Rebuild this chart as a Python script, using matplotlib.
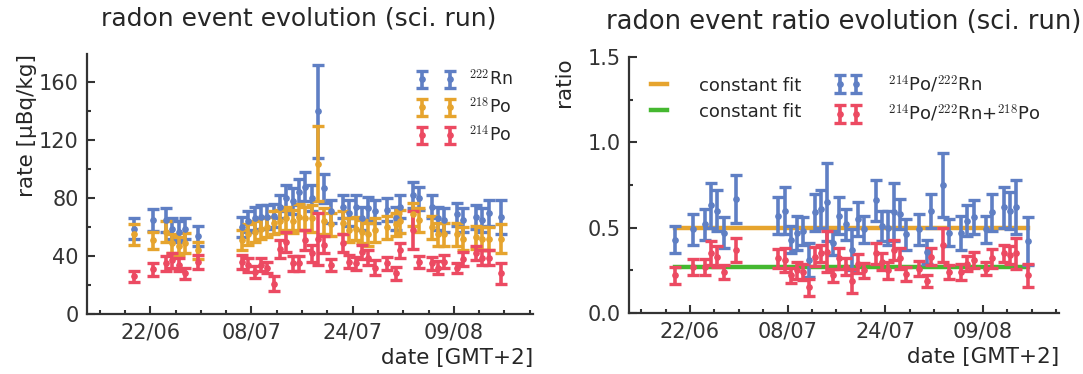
import numpy as np
import pandas as pd
import matplotlib
matplotlib.use("Agg")
import matplotlib.pyplot as plt
import matplotlib.dates as mdates

plt.rcParams["font.family"] = ["DejaVu Sans"]
plt.rcParams["mathtext.fontset"] = "cm"
plt.rcParams["text.color"] = "#262626"
plt.rcParams["axes.labelcolor"] = "#262626"
plt.rcParams["xtick.color"] = "#333333"
plt.rcParams["ytick.color"] = "#333333"

# measurement times (GMT+2)
times = pd.to_datetime([
    "2021-06-19 12:00", "2021-06-22 12:00", "2021-06-24 12:00", "2021-06-25 12:00",
    "2021-06-26 12:00", "2021-06-27 12:00", "2021-06-29 12:00", "2021-07-06 12:00",
    "2021-07-07 12:00", "2021-07-08 12:00", "2021-07-09 12:00", "2021-07-10 12:00",
    "2021-07-11 12:00", "2021-07-12 12:00", "2021-07-13 12:00", "2021-07-14 12:00",
    "2021-07-15 12:00", "2021-07-16 12:00", "2021-07-17 12:00", "2021-07-18 12:00",
    "2021-07-19 12:00", "2021-07-20 12:00", "2021-07-22 12:00", "2021-07-23 12:00",
    "2021-07-24 12:00", "2021-07-25 12:00", "2021-07-26 12:00", "2021-07-27 12:00",
    "2021-07-29 12:00", "2021-07-30 19:00", "2021-07-31 12:00", "2021-08-02 12:00",
    "2021-08-03 12:00", "2021-08-05 12:00", "2021-08-06 12:00", "2021-08-07 12:00",
    "2021-08-09 12:00", "2021-08-10 12:00", "2021-08-12 12:00", "2021-08-13 12:00",
    "2021-08-14 12:00", "2021-08-16 12:00",
])

# rates [uBq/kg]
rn222 = [59, 65, 65, 59, 57, 59, 54, 60, 64, 66, 67, 67, 68, 74, 80, 78, 84, 88, 80, 140, 87,
         71, 74, 70, 74, 66, 73, 71, 72, 66, 74, 82, 80, 74, 66, 65, 69, 65, 67, 65, 70, 67]
rn222_err = [7.5, 7.5, 8, 7, 7, 7, 7, 7, 7.5, 8, 8, 8, 8, 8, 9, 9, 9, 10, 9, 32, 10,
             8, 8, 9, 8, 8, 8, 8, 8, 8, 8, 9, 8, 8, 8, 8, 8, 8, 8, 8, 9, 12]
po218 = [55, 51, 57, 49, 47, 49, 44, 51, 55, 57, 59, 60, 63, 64, 66, 64, 67, 66, 66, 104, 64,
         62, 63, 58, 59, 57, 55, 58, 60, 62, 64, 69, 65, 60, 55, 55, 55, 52, 53, 52, 52, 52]
po218_err = [7, 6, 7, 6.5, 6, 7, 6, 7, 7, 7, 7, 7, 8, 8, 8, 8, 9, 8, 9, 26, 9,
             8, 8, 8, 8, 8, 8, 8, 8, 8, 8, 8, 8, 8, 8, 8, 8, 8, 8, 8, 8, 10]
po214 = [26, 31, 35, 37, 34, 28, 36, 36, 34, 29, 34, 32, 21, 45, 50, 35, 35, 51, 42, 52, 48,
         34, 49, 36, 35, 43, 39, 32, 35, 28, 44, 58, 36, 35, 32, 36, 32, 38, 42, 39, 39, 28]
po214_err = [4, 4.5, 5, 5, 4.5, 4, 5, 5, 5, 4, 4.5, 4, 5, 6, 7, 5, 5, 7, 6, 18, 6,
             4, 6, 4.5, 4.5, 5, 5, 5, 4.5, 4.5, 5, 13, 4, 4.5, 4.5, 4.5, 3.5, 5, 5, 5, 5, 7]

# ratios
ratio_rn = [0.43, 0.49, 0.52, 0.63, 0.60, 0.47, 0.67, 0.57, 0.60, 0.43, 0.47, 0.48, 0.31, 0.59,
            0.61, 0.65, 0.41, 0.57, 0.52, 0.37, 0.55, 0.49, 0.66, 0.51, 0.50, 0.59, 0.58, 0.46,
            0.49, 0.36, 0.60, 0.75, 0.47, 0.47, 0.54, 0.56, 0.49, 0.59, 0.62, 0.60, 0.62, 0.42]
ratio_rn_err = [0.08, 0.09, 0.09, 0.13, 0.12, 0.09, 0.14, 0.11, 0.14, 0.08, 0.10, 0.08, 0.10, 0.11,
                0.11, 0.23, 0.07, 0.11, 0.09, 0.12, 0.10, 0.08, 0.12, 0.09, 0.10, 0.17, 0.09, 0.09,
                0.09, 0.07, 0.10, 0.19, 0.08, 0.10, 0.09, 0.10, 0.08, 0.11, 0.12, 0.11, 0.16, 0.14]
ratio_sum = [0.22, 0.27, 0.27, 0.35, 0.33, 0.24, 0.37, 0.32, 0.31, 0.22, 0.25, 0.24, 0.15, 0.33,
             0.35, 0.36, 0.22, 0.32, 0.27, 0.19, 0.29, 0.25, 0.35, 0.30, 0.25, 0.37, 0.32, 0.23,
             0.26, 0.19, 0.33, 0.40, 0.24, 0.24, 0.29, 0.31, 0.26, 0.32, 0.35, 0.34, 0.35, 0.22]
ratio_sum_err = [0.05, 0.045, 0.045, 0.07, 0.06, 0.04, 0.07, 0.055, 0.07, 0.045, 0.05, 0.045, 0.05,
                 0.055, 0.05, 0.12, 0.04, 0.06, 0.05, 0.07, 0.055, 0.045, 0.06, 0.05, 0.05, 0.06,
                 0.06, 0.04, 0.045, 0.035, 0.05, 0.10, 0.04, 0.045, 0.045, 0.045, 0.04, 0.055,
                 0.05, 0.05, 0.09, 0.07]
fit_rn = 0.50
fit_sum = 0.272

major_dates = pd.to_datetime(["2021-06-22", "2021-07-08", "2021-07-24", "2021-08-09"])
minor_dates = pd.date_range("2021-06-14", "2021-08-21", freq="4D")
xlim = (pd.Timestamp("2021-06-12 00:00"), pd.Timestamp("2021-08-21 12:00"))

blue = "#5F7FC4"
orange = "#E6A42E"
red = "#EC4A62"
green = "#45B830"

eb = dict(fmt="o", markersize=3.8, elinewidth=2.6, capsize=4.4, capthick=2.4)

fig = plt.figure(figsize=(10.83, 3.74), dpi=100)
ax1 = fig.add_axes([0.0803, 0.1604, 0.4118, 0.6965])
ax2 = fig.add_axes([0.5808, 0.1631, 0.3970, 0.6845])


def style(ax):
    for s in ["top", "right"]:
        ax.spines[s].set_visible(False)
    for s in ["left", "bottom"]:
        ax.spines[s].set_color("#333333")
        ax.spines[s].set_linewidth(1.6)
    ax.set_xlim(xlim)
    ax.set_xticks(major_dates)
    ax.set_xticks(minor_dates, minor=True)
    ax.xaxis.set_major_formatter(mdates.DateFormatter("%d/%m"))
    ax.tick_params(which="both", direction="in", labelsize=15, width=1.5)
    ax.tick_params(which="major", length=6, pad=6)
    ax.tick_params(which="minor", length=3)
    ax.set_xlabel("date [GMT+2]", loc="right", fontsize=15.5, labelpad=4)


# left panel: rates
h1 = ax1.errorbar(times, rn222, yerr=rn222_err, color=blue, **eb)
h2 = ax1.errorbar(times, po218, yerr=po218_err, color=orange, **eb)
h3 = ax1.errorbar(times, po214, yerr=po214_err, color=red, **eb)
style(ax1)
ax1.set_ylim(0, 180)
ax1.set_yticks([0, 40, 80, 120, 160])
ax1.set_yticks(np.arange(20, 180, 40), minor=True)
ax1.set_ylabel(r"rate [µBq/kg]", loc="top", fontsize=15.5, labelpad=1)
ax1.set_title("radon event evolution (sci. run)", fontsize=18, pad=20, x=0.475)
ax1.legend([h1, h2, h3], [r"$^{222}$Rn", r"$^{218}$Po", r"$^{214}$Po"],
           loc="upper right", bbox_to_anchor=(0.99, 1.0), frameon=False, numpoints=2,
           fontsize=12.5, handlelength=2.2, labelspacing=0.45)

# right panel: ratios
f1, = ax2.plot([times[0], times[-1]], [fit_rn, fit_rn], color=orange, lw=3.2)
f2, = ax2.plot([times[0], times[-1]], [fit_sum, fit_sum], color=green, lw=3.2)
r1 = ax2.errorbar(times, ratio_rn, yerr=ratio_rn_err, color=blue, **eb)
r2 = ax2.errorbar(times, ratio_sum, yerr=ratio_sum_err, color=red, **eb)
style(ax2)
ax2.set_ylim(0, 1.5)
ax2.set_yticks([0.0, 0.5, 1.0, 1.5])
ax2.set_yticks([0.25, 0.75, 1.25], minor=True)
ax2.set_ylabel("ratio", loc="top", fontsize=15.5, labelpad=10)
ax2.set_title("radon event ratio evolution (sci. run)", fontsize=18.5, pad=20)
ax2.legend([f1, f2, r1, r2],
           ["constant fit", "constant fit", r"$^{214}$Po/$^{222}$Rn",
            r"$^{214}$Po/$^{222}$Rn+$^{218}$Po"],
           ncol=2, loc="upper left", bbox_to_anchor=(0.0, 1.0), frameon=False,
           numpoints=2, fontsize=13, handlelength=1.5, handletextpad=1.5,
           columnspacing=1.8, labelspacing=0.45)

fig.savefig("out.png", dpi=100)
